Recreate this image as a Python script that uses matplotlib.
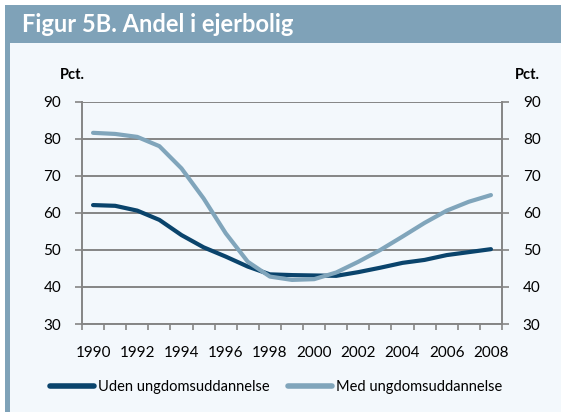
import matplotlib.pyplot as plt
from matplotlib.patches import Rectangle
import numpy as np

years = list(range(1990, 2009))
uden = [62.1, 61.9, 60.6, 58.1, 54.0, 50.7, 48.2, 45.5, 43.4, 43.2, 43.1, 43.0,
        44.0, 45.2, 46.5, 47.3, 48.6, 49.4, 50.2]
med = [81.6, 81.3, 80.5, 78.0, 72.0, 63.9, 54.5, 46.8, 42.8, 41.9, 42.1, 43.9,
       46.8, 50.0, 53.6, 57.3, 60.6, 63.0, 64.8]
yticks = [30, 40, 50, 60, 70, 80, 90]

dark = '#0a446c'
light = '#80a5bb'
band = '#7fa2b8'
bg = '#f3f8fc'
grid = '#858585'

plt.rcParams['font.family'] = ['Lato', 'DejaVu Sans']

fig = plt.figure(figsize=(5.61, 4.12), dpi=100)
fig.patch.set_facecolor('white')
# panel background, title band and left border
fig.add_artist(Rectangle((5/561, 0), 556/561, 1 - 5/412, transform=fig.transFigure,
                         facecolor=bg, edgecolor='none', zorder=-3))
fig.add_artist(Rectangle((5/561, 1 - 43/412), 556/561, 38/412, transform=fig.transFigure,
                         facecolor=band, edgecolor='none', zorder=-2))
fig.add_artist(Rectangle((5/561, 0), 5/561, 1 - 5/412, transform=fig.transFigure,
                         facecolor=band, edgecolor='none', zorder=-2))
fig.text(22/561, 1 - 24/412, 'Figur 5B. Andel i ejerbolig', color='white',
         fontsize=17, fontweight='bold', va='center', ha='left')

ax = fig.add_axes([82/561, 1 - 324/412, 420/561, 222.3/412])
ax.set_facecolor(bg)
x = np.arange(len(years))
ax.plot(x, uden, color=dark, lw=3, label='Uden ungdomsuddannelse', solid_capstyle='round')
ax.plot(x, med, color=light, lw=3, label='Med ungdomsuddannelse', solid_capstyle='round')

ax.set_xlim(-0.5, len(years) - 0.5)
ax.set_ylim(30, 90)
ax.set_yticks(yticks)
ax.set_xticks(np.arange(-0.5, len(years), 1.0))
ax.set_xticklabels([])
ax.set_xticks(x[::2], minor=True)
ax.set_xticklabels([str(y) for y in years[::2]], minor=True)
ax.tick_params(axis='x', which='major', length=4, color=grid, width=1.2, direction='out')
ax.tick_params(axis='x', which='minor', length=0, labelsize=11, pad=16)
ax.tick_params(axis='y', length=5, color=grid, width=1.2, labelsize=11,
               left=True, right=True, labelleft=True, labelright=True, pad=10)
ax.grid(axis='y', color=grid, lw=1.4)
ax.set_axisbelow(True)
for s in ['left', 'right', 'bottom']:
    ax.spines[s].set_color(grid)
    ax.spines[s].set_linewidth(1.4)
ax.spines['top'].set_visible(False)

fig.text(72/561, 1 - 75/412, 'Pct.', fontsize=10.5, fontweight='bold', ha='center', va='center')
fig.text(527/561, 1 - 75/412, 'Pct.', fontsize=10.5, fontweight='bold', ha='center', va='center')

leg = fig.legend(loc='center', bbox_to_anchor=(276/561, 1 - 387/412), ncol=2, frameon=False,
                 fontsize=10.5, handlelength=3.0, handletextpad=0.25, columnspacing=1.3)
for line in leg.get_lines():
    line.set_linewidth(4)

fig.savefig('out.png', dpi=100, facecolor=fig.get_facecolor())
